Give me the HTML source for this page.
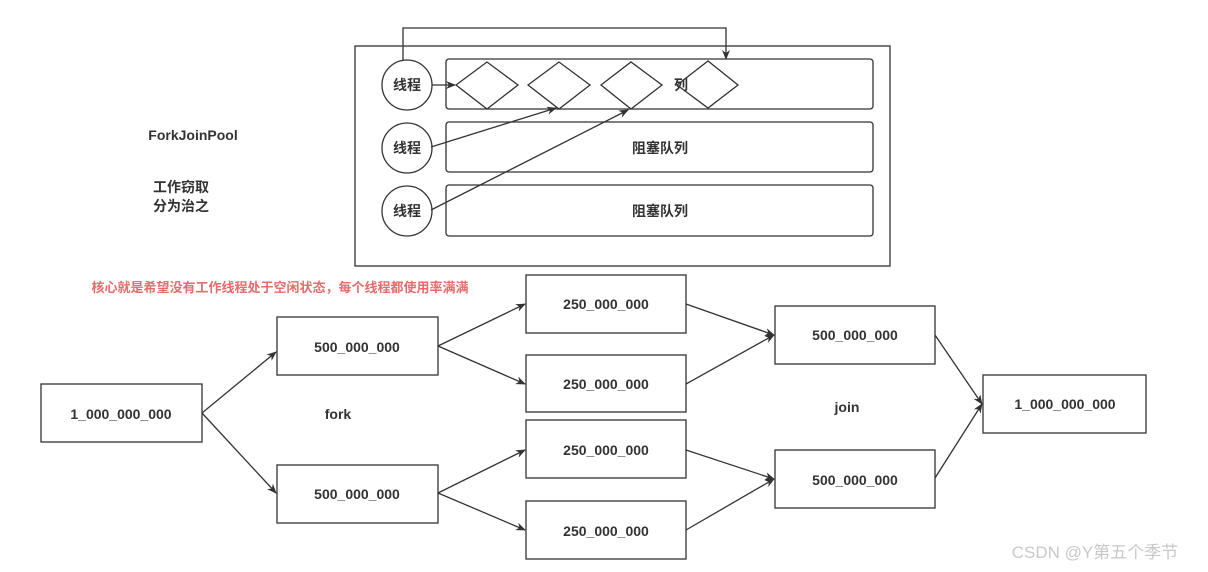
<!DOCTYPE html>
<html><head><meta charset="utf-8"><style>
html,body{margin:0;padding:0;background:#fff;}
svg{display:block;}
text{font-family:"Liberation Sans","Noto Sans CJK SC",sans-serif;font-weight:bold;fill:#333;}
</style></head><body>
<svg width="1208" height="572" viewBox="0 0 1208 572" xmlns="http://www.w3.org/2000/svg">
<defs>
<marker id="a" markerWidth="10" markerHeight="8" refX="9" refY="4" orient="auto" markerUnits="userSpaceOnUse">
<path d="M0,0 L10,4 L0,8 L3,4 Z" fill="#333"/></marker>
</defs>
<g fill="none" stroke="#333" stroke-width="1.3">
<rect x="355" y="46" width="535" height="220"/>
<rect x="446" y="59" width="427" height="50" rx="3"/>
<rect x="446" y="122" width="427" height="50" rx="3"/>
<rect x="446" y="185" width="427" height="51" rx="3"/>
<circle cx="407" cy="85" r="25" fill="#fff"/>
<circle cx="407" cy="148" r="25" fill="#fff"/>
<circle cx="407" cy="211" r="25" fill="#fff"/>
<polygon points="456,85 487,62 518,85 487,109" fill="#fff"/>
<polygon points="528,85 559,62 590,85 559,109" fill="#fff"/>
<polygon points="601,85 631,62 662,85 631,109"/>
<polygon points="677,85 708,61 738,85 708,108" fill="#fff"/>
<path d="M403,60 V28 H726 V59" marker-end="url(#a)"/>
<line x1="432" y1="85" x2="455" y2="85" marker-end="url(#a)"/>
<line x1="431" y1="147" x2="556" y2="108" marker-end="url(#a)"/>
<line x1="431" y1="210" x2="628" y2="110" marker-end="url(#a)"/>

<rect x="41" y="384" width="161" height="58"/>
<rect x="277" y="317" width="161" height="58"/>
<rect x="277" y="465" width="161" height="58"/>
<rect x="526" y="275" width="160" height="58"/>
<rect x="526" y="355" width="160" height="57"/>
<rect x="526" y="420" width="160" height="58"/>
<rect x="526" y="501" width="160" height="58"/>
<rect x="775" y="306" width="160" height="58"/>
<rect x="775" y="450" width="160" height="58"/>
<rect x="983" y="375" width="163" height="58"/>
<line x1="202" y1="413" x2="276" y2="352" marker-end="url(#a)"/>
<line x1="202" y1="413" x2="276" y2="493" marker-end="url(#a)"/>
<line x1="438" y1="346" x2="525" y2="304" marker-end="url(#a)"/>
<line x1="438" y1="346" x2="525" y2="384" marker-end="url(#a)"/>
<line x1="438" y1="493" x2="525" y2="450" marker-end="url(#a)"/>
<line x1="438" y1="493" x2="525" y2="530" marker-end="url(#a)"/>
<line x1="686" y1="304" x2="774" y2="335" marker-end="url(#a)"/>
<line x1="686" y1="384" x2="774" y2="335" marker-end="url(#a)"/>
<line x1="686" y1="450" x2="774" y2="479" marker-end="url(#a)"/>
<line x1="686" y1="530" x2="774" y2="479" marker-end="url(#a)"/>
<line x1="935" y1="335" x2="982" y2="404" marker-end="url(#a)"/>
<line x1="935" y1="478" x2="982" y2="404" marker-end="url(#a)"/>
</g>
<g font-size="14" text-anchor="middle">
<text x="407" y="90">线程</text>
<text x="407" y="153">线程</text>
<text x="407" y="216">线程</text>
<text x="681" y="90">列</text>
<text x="660" y="153">阻塞队列</text>
<text x="660" y="216">阻塞队列</text>
<text x="193" y="140">ForkJoinPool</text>
<text x="181" y="192">工作窃取</text>
<text x="181" y="211">分为治之</text>
<text x="121" y="419">1_000_000_000</text>
<text x="357" y="352">500_000_000</text>
<text x="357" y="499">500_000_000</text>
<text x="606" y="309">250_000_000</text>
<text x="606" y="389">250_000_000</text>
<text x="606" y="455">250_000_000</text>
<text x="606" y="536">250_000_000</text>
<text x="855" y="340">500_000_000</text>
<text x="855" y="485">500_000_000</text>
<text x="1065" y="409">1_000_000_000</text>
<text x="338" y="419">fork</text>
<text x="847" y="412">join</text>
</g>
<text x="280" y="292" font-size="13" text-anchor="middle" style="fill:#e86a6a">核心就是希望没有工作线程处于空闲状态，每个线程都使用率满满</text>
<text x="1095" y="558" font-size="17" text-anchor="middle" style="fill:#c8c8c8;font-weight:normal">CSDN @Y第五个季节</text>
</svg>
</body></html>
